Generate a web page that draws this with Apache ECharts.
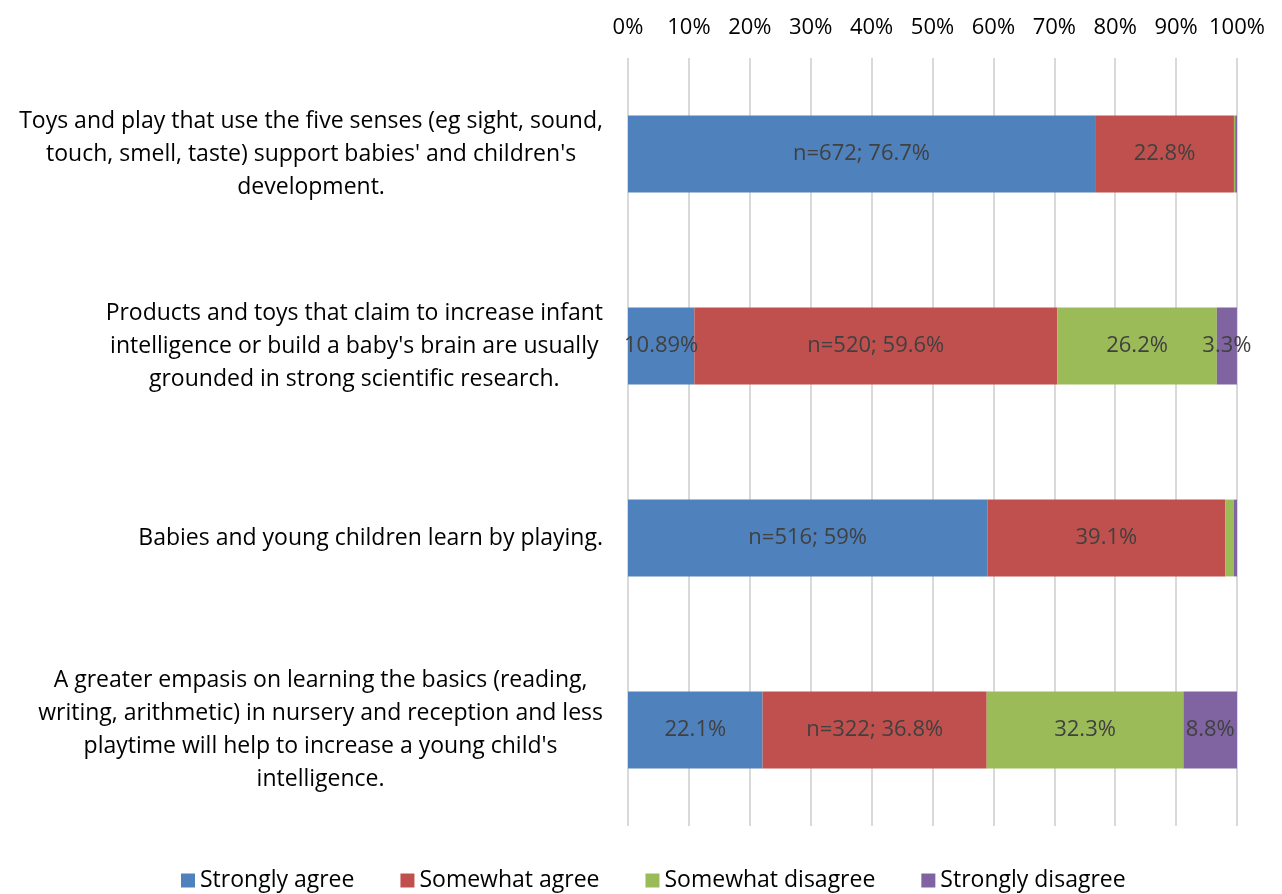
<!DOCTYPE html>
<html><head><meta charset="utf-8">
<script src="https://cdn.jsdelivr.net/npm/echarts@6/dist/echarts.min.js"></script>
<style>html,body{margin:0;padding:0;background:#fff}#c{width:1282px;height:894px}</style>
</head><body><div id="c"></div>
<script>
const categories = [
  "Toys and play that use the five senses (eg sight, sound,\ntouch, smell, taste) support babies' and children's\ndevelopment.",
  "Products and toys that claim to increase infant\nintelligence or build a baby's brain are usually\ngrounded in strong scientific research.",
  "Babies and young children learn by playing.",
  "A greater empasis on learning the basics (reading,\nwriting, arithmetic) in nursery and reception and less\nplaytime will help to increase a young child's\nintelligence."
];
const seriesNames = ['Strongly agree', 'Somewhat agree', 'Somewhat disagree', 'Strongly disagree'];
const stronglyAgree = [76.7, 10.89, 59, 22.1];
const somewhatAgree = [22.8, 59.6, 39.1, 36.8];
const somewhatDisagree = [0.2, 26.2, 1.4, 32.3];
const stronglyDisagree = [0.3, 3.3, 0.5, 8.8];
const stronglyAgreeLabels = ['n=672; 76.7%', '10.89%', 'n=516; 59%', '22.1%'];
const somewhatAgreeLabels = ['22.8%', 'n=520; 59.6%', '39.1%', 'n=322; 36.8%'];
const somewhatDisagreeLabels = ['', '26.2%', '', '32.3%'];
const stronglyDisagreeLabels = ['', '3.3%', '', '8.8%'];
const xTicks = [0, 10, 20, 30, 40, 50, 60, 70, 80, 90, 100];
const colors = ['#4F81BD', '#C0504D', '#9BBB59', '#8064A2'];

const FONT = 'Open Sans';
const values = [stronglyAgree, somewhatAgree, somewhatDisagree, stronglyDisagree];
const labels = [stronglyAgreeLabels, somewhatAgreeLabels, somewhatDisagreeLabels, stronglyDisagreeLabels];

const chart = echarts.init(document.getElementById('c'));
chart.setOption({
  animation: false,
  color: colors,
  grid: { left: 628, right: 45, top: 58, bottom: 68 },
  xAxis: {
    type: 'value', position: 'top', min: xTicks[0], max: xTicks[xTicks.length - 1], interval: 10,
    axisLine: { show: false }, axisTick: { show: false },
    splitLine: { lineStyle: { color: '#d9d9d9', width: 2 } },
    axisLabel: { formatter: '{value}%', fontFamily: FONT, fontSize: 22, color: '#000', margin: 19 }
  },
  yAxis: {
    type: 'category', inverse: true, data: categories,
    axisLine: { show: false }, axisTick: { show: false },
    axisLabel: {
      margin: 25, align: 'right',
      formatter: v => v.split('\n').map(l => '{c|' + l + '}').join('\n'),
      rich: { c: { align: 'center', fontFamily: FONT, fontSize: 23, color: '#000', lineHeight: 33 } }
    }
  },
  legend: {
    bottom: -3, left: 176, icon: 'rect', itemWidth: 14, itemHeight: 14, itemGap: 46,
    textStyle: { fontFamily: FONT, fontSize: 23, color: '#000' },
    data: seriesNames
  },
  series: seriesNames.map((name, si) => ({
    name, type: 'bar', stack: 'total', barWidth: '40%',
    data: values[si].map((v, i) => ({
      value: v,
      label: { show: labels[si][i] !== '', formatter: labels[si][i] }
    })),
    label: { position: 'inside', fontFamily: FONT, fontSize: 22, color: '#404040' }
  }))
});
</script></body></html>
